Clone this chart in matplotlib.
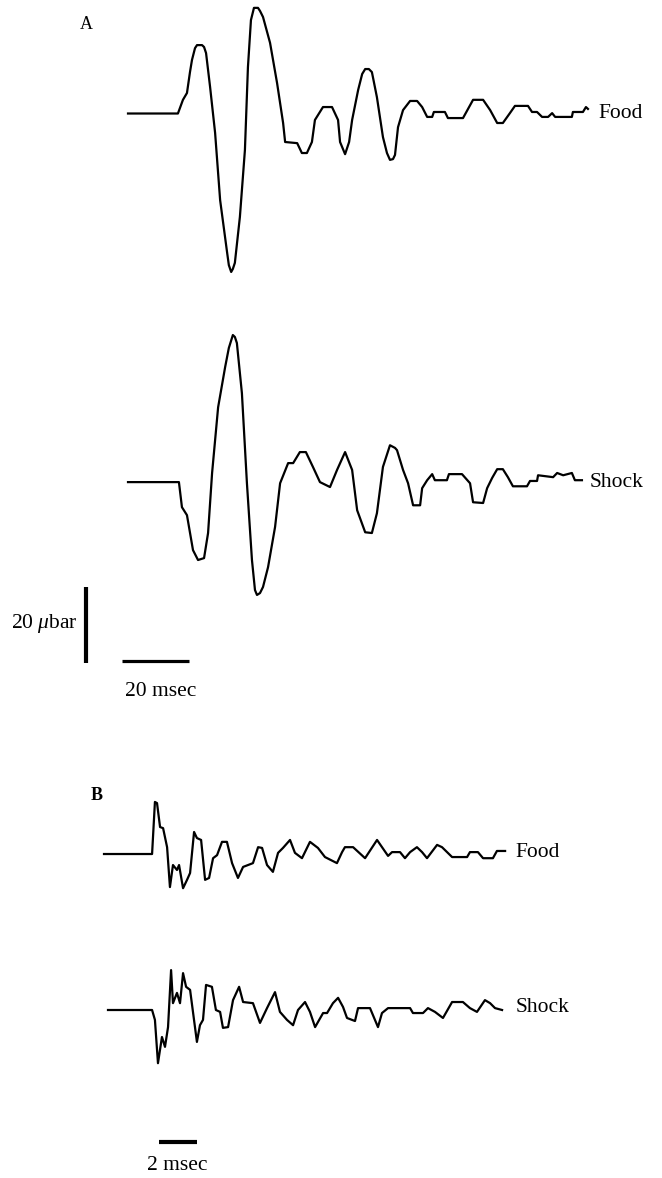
import matplotlib
matplotlib.use("Agg")
import matplotlib.pyplot as plt

# Panel A traces (time in msec, pressure in microbar)
food_a_t = [0, 14.9, 16.4, 17.6, 18.5, 19.1, 20.0, 20.6, 22.1, 22.7, 23.3, 24.5, 26.0, 27.5,
            29.6, 30.1, 30.8, 31.3, 31.9, 33.4, 34.9, 35.8, 36.7, 37.6, 38.8, 39.4, 40.3, 42.4,
            44.5, 46.3, 46.9, 50.5, 51.9, 53.4, 54.9, 55.8, 58.2, 60.9, 62.7, 63.3, 64.8, 66.0,
            66.9, 68.7, 69.9, 70.8, 71.9, 72.8, 73.1, 74.3, 76.1, 77.3, 78.2, 79.1, 79.7, 80.6,
            82.1, 84.2, 86.3, 87.8, 89.3, 90.8, 91.3, 94.6, 95.5, 100.0, 103.0, 106.0, 108.1,
            110.2, 111.9, 114.0, 115.5, 119.4, 120.6, 122.1, 123.6, 125.4, 126.6, 127.5, 132.5,
            132.8, 135.8, 136.7, 137.3]
food_a_p = [0, 0, 3.6, 5.4, 10.9, 14.1, 17.2, 18.0, 18.0, 17.5, 15.9, 7.0, -5.1, -22.8,
            -36.7, -39.9, -41.7, -40.9, -39.3, -27.2, -9.6, 12.2, 24.6, 27.8, 27.8, 27.0, 25.4, 18.6,
            8.0, -2.5, -7.5, -7.8, -10.4, -10.4, -7.5, -1.7, 1.7, 1.7, -1.7, -7.5, -10.7, -7.5,
            -1.7, 6.2, 10.4, 11.7, 11.7, 10.9, 9.6, 4.3, -6.2, -10.4, -12.2, -12.0, -10.9, -3.6,
            0.9, 3.3, 3.3, 1.7, -0.9, -0.9, 0.4, 0.4, -1.2, -1.2, 3.6, 3.6, 0.9,
            -2.5, -2.5, 0.1, 2.0, 2.0, 0.4, 0.4, -0.9, -0.9, 0.1, -0.9, -0.9,
            0.4, 0.4, 1.7, 1.2]

shock_a_t = [0, 15.2, 16.1, 17.6, 19.4, 20.9, 22.7, 23.9, 25.1, 26.9, 29.0, 30.1, 31.3, 31.9,
             32.5, 34.0, 35.5, 37.0, 37.9, 38.5, 39.4, 40.3, 41.8, 43.9, 45.4, 47.8, 49.3, 51.3,
             53.1, 55.2, 57.3, 60.3, 62.4, 64.8, 66.9, 68.4, 70.8, 72.8, 74.3, 76.1, 78.2, 79.7,
             80.3, 82.1, 83.6, 85.1, 87.2, 87.8, 89.3, 90.8, 91.6, 95.2, 95.8, 99.7, 102.1, 103.0,
             106.0, 107.2, 108.7, 110.2, 111.9, 113.4, 114.9, 119.1, 120.0, 122.1, 122.4, 126.9,
             128.1, 129.9, 132.5, 133.4, 135.5]
shock_a_p = [0, 0, -6.6, -8.7, -17.9, -20.5, -20.0, -13.4, 2.4, 19.7, 30.3, 35.3, 38.7, 38.2,
             36.6, 23.4, -0.3, -20.5, -28.4, -29.7, -29.2, -27.6, -22.4, -11.8, -0.3, 5.0, 5.0, 7.9,
             7.9, 4.0, 0, -1.3, 3.2, 7.9, 3.2, -7.4, -13.2, -13.4, -8.2, 4.0, 9.7, 9.0,
             8.4, 3.2, -0.3, -6.1, -6.1, -1.6, 0.5, 2.1, 0.5, 0.5, 2.1, 2.1, -0.3, -5.3,
             -5.5, -1.6, 1.1, 3.4, 3.4, 1.3, -1.1, -1.1, 0.3, 0.3, 1.8, 1.3,
             2.4, 1.8, 2.4, 0.5, 0.5]

# Panel B traces (time in msec, pressure in microbar)
food_b_t = [0, 2.53, 2.68, 2.79, 2.95, 3.11, 3.32, 3.47, 3.63, 3.84, 3.95, 4.16, 4.37, 4.53,
            4.74, 4.89, 5.11, 5.32, 5.53, 5.74, 5.95, 6.21, 6.47, 6.74, 7.05, 7.32, 7.84, 8.11,
            8.32, 8.58, 8.89, 9.16, 9.42, 9.79, 10.05, 10.42, 10.84, 11.26, 11.63, 12.26, 12.53,
            12.68, 13.11, 13.74, 14.37, 14.95, 15.16, 15.58, 15.84, 16.11, 16.47, 16.74, 17.0,
            17.53, 17.79, 18.32, 19.11, 19.26, 19.68, 19.95, 20.47, 20.68, 21.11]
food_b_p = [0, 0, 13.7, 13.4, 7.1, 6.8, 1.8, -8.7, -2.9, -4.2, -2.9, -9.0, -6.8, -5.0,
            5.8, 4.2, 3.7, -6.8, -6.3, -1.1, -0.3, 3.2, 3.2, -2.4, -6.3, -3.4, -2.4, 1.8,
            1.6, -2.9, -4.7, 0.3, 1.6, 3.7, 0.3, -1.1, 3.2, 1.6, -0.8, -2.4, 0.5,
            1.8, 1.8, -1.1, 3.7, -0.5, 0.5, 0.5, -1.1, 0.5, 1.8, 0.5, -1.1,
            2.4, 1.8, -0.8, -0.8, 0.5, 0.5, -1.1, -1.1, 0.8, 0.8]

shock_b_t = [0.21, 2.53, 2.68, 2.84, 3.05, 3.21, 3.37, 3.53, 3.63, 3.84, 4.0, 4.16, 4.32, 4.53,
             4.89, 5.05, 5.21, 5.37, 5.68, 5.89, 6.11, 6.26, 6.53, 6.79, 7.11, 7.32, 7.84, 8.21,
             8.58, 9.0, 9.26, 9.63, 9.95, 10.21, 10.58, 10.84, 11.11, 11.53, 11.74, 12.05, 12.32,
             12.58, 12.79, 13.21, 13.37, 14.0, 14.26, 14.42, 14.63, 14.95, 16.11, 16.26, 16.79,
             17.05, 17.42, 17.84, 18.32, 18.89, 19.26, 19.63, 20.05, 20.32, 20.58, 20.95]
shock_b_p = [0, 0, -2.6, -14.0, -7.1, -9.7, -4.5, 10.5, 1.8, 4.5, 1.8, 9.7, 6.1, 5.3,
             -8.4, -4.0, -2.6, 6.6, 6.1, 0, -0.5, -4.7, -4.5, 2.6, 6.1, 2.1, 1.8, -3.4,
             0.5, 4.7, -0.5, -2.6, -4.0, 0, 2.1, -0.5, -4.5, -0.8, -0.8, 1.8, 3.2,
             0.8, -2.1, -2.9, 0.5, 0.5, -2.6, -4.5, -0.8, 0.5, 0.5, -0.8, -0.8,
             0.5, -0.5, -2.1, 2.1, 2.1, 0.5, -0.5, 2.6, 1.8, 0.5, 0]

trace_labels = ["Food", "Shock"]

plt.rcParams['font.family'] = ['Liberation Serif', 'DejaVu Serif']
plt.rcParams['mathtext.fontset'] = 'custom'
plt.rcParams['mathtext.it'] = 'Liberation Serif:italic'
plt.rcParams['mathtext.rm'] = 'Liberation Serif'
fig = plt.figure(figsize=(6.62, 11.78), dpi=100)

# Panel A: full-figure axes, 3.35 px/msec and 3.8 px/ubar
ax_a = fig.add_axes([0, 0, 1, 1])
ax_a.set_xlim(-38.21, 159.40)
ax_a.set_ylim(-280.13, 29.87)
ax_a.axis("off")
shift_a = -97.0
ax_a.plot(food_a_t, food_a_p, color="black", lw=1.6)
ax_a.plot(shock_a_t, [p + shift_a for p in shock_a_p], color="black", lw=1.6)
ax_a.text(140.3, 0, trace_labels[0], fontsize=15.5, va="center", ha="left")
ax_a.text(137.9, shift_a, trace_labels[1], fontsize=15.5, va="center", ha="left")
ax_a.text(-12.5, 23.3, "A", fontsize=13, va="center", ha="center")

# scale bars for A
ax_a.plot([-12.54, -12.54], [-124.6, -144.6], color="black", lw=3, solid_capstyle="butt")
ax_a.text(-14.9, -134.3, r"20 $\mu$bar", fontsize=15.5, va="center", ha="right")
ax_a.plot([-1.79, 18.21], [-144.1, -144.1], color="black", lw=2.3, solid_capstyle="butt")
ax_a.text(9.9, -149.5, "20 msec", fontsize=15.5, va="top", ha="center")

# Panel B: full-figure axes, 19 px/msec and 3.8 px/ubar
ax_b = fig.add_axes([0, 0, 1, 1])
ax_b.set_xlim(-5.474, 29.368)
ax_b.set_ylim(-85.26, 224.74)
ax_b.axis("off")
shift_b = -41.05
ax_b.plot(food_b_t, food_b_p, color="black", lw=1.6)
ax_b.plot(shock_b_t, [p + shift_b for p in shock_b_p], color="black", lw=1.6)
ax_b.text(21.68, 0.5, trace_labels[0], fontsize=15.5, va="center", ha="left")
ax_b.text(21.68, -40.5, trace_labels[1], fontsize=15.5, va="center", ha="left")
ax_b.text(-0.37, 15.5, "B", fontsize=13, fontweight="bold", va="center", ha="center")

ax_b.plot([2.89, 4.89], [-75.66, -75.66], color="black", lw=3, solid_capstyle="butt")
ax_b.text(3.84, -79.5, "2 msec", fontsize=15.5, va="top", ha="center")

fig.savefig("out.png", dpi=100)
plt.close(fig)
